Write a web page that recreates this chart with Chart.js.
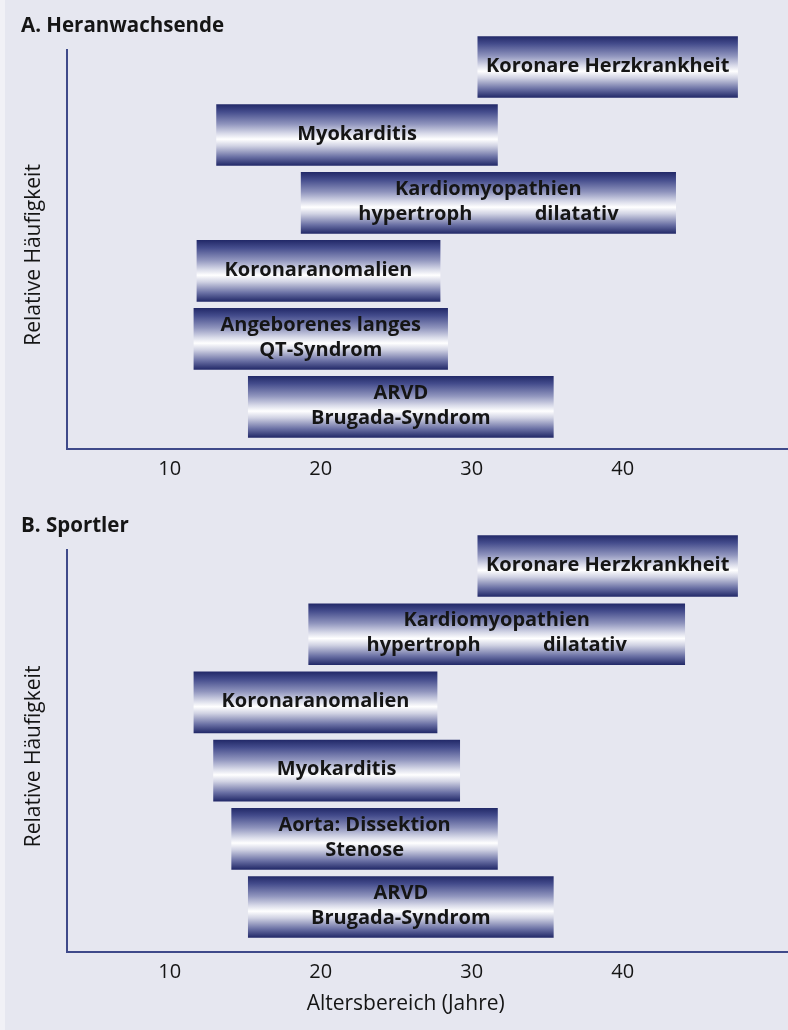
<!DOCTYPE html>
<html lang="de">
<head>
<meta charset="utf-8">
<title>Altersbereiche – Heranwachsende und Sportler</title>
<script src="https://cdn.jsdelivr.net/npm/chart.js@4.4.1/dist/chart.umd.min.js"></script>
<style>
  html, body { margin: 0; padding: 0; background: #e6e7f0; }
  body { width: 788px; height: 1030px; position: relative; overflow: hidden; }
  .rand { position: absolute; left: 0; top: 0; width: 5px; height: 1030px; background: #f1f1f6; }
  .panel { position: absolute; left: 0; width: 788px; }
  #panelA { top: 0; height: 500px; }
  #panelB { top: 500px; height: 530px; }
</style>
</head>
<body>
<div class="rand"></div>
<div class="panel" id="panelA"><canvas id="chartA"></canvas></div>
<div class="panel" id="panelB"><canvas id="chartB"></canvas></div>
<script>
// Werte (Alter in Jahren)
const alterTicks = [10, 20, 30, 40];

const kategorienA = [
    ['Koronare Herzkrankheit'],
    ['Myokarditis'],
    ['Kardiomyopathien', 'hypertroph            dilatativ'],
    ['Koronaranomalien'],
    ['Angeborenes langes', 'QT-Syndrom'],
    ['ARVD', 'Brugada-Syndrom']
];
const vonA = [30.4, 13.1, 18.7, 11.8, 11.6, 15.2];
const bisA = [47.6, 31.7, 43.5, 27.9, 28.4, 35.4];

const kategorienB = [
    ['Koronare Herzkrankheit'],
    ['Kardiomyopathien', 'hypertroph            dilatativ'],
    ['Koronaranomalien'],
    ['Myokarditis'],
    ['Aorta: Dissektion', 'Stenose'],
    ['ARVD', 'Brugada-Syndrom']
];
const vonB = [30.4, 19.2, 11.6, 12.9, 14.1, 15.2];
const bisB = [47.6, 44.1, 27.7, 29.2, 31.7, 35.4];

const achsenFarbe = '#3f4a8a';
const textFarbe = '#151515';
const balkenHoehe = 61;

// Verlauf dunkel - weiss - dunkel fuer jeden Balken
const balkenVerlauf = (ctx) => {
    const chart = ctx.chart;
    const yScale = chart.scales.y;
    if (ctx.type !== 'data' || !yScale || !chart.chartArea) return '#262d6c';
    const mitte = yScale.getPixelForValue(ctx.raw.y);
    if (!isFinite(mitte)) return '#262d6c';
    const g = chart.ctx.createLinearGradient(0, mitte - balkenHoehe / 2, 0, mitte + balkenHoehe / 2);
    g.addColorStop(0, '#232a69');
    g.addColorStop(0.12, '#444c8c');
    g.addColorStop(0.32, '#8f94bd');
    g.addColorStop(0.48, '#dadcea');
    g.addColorStop(0.57, '#ffffff');
    g.addColorStop(0.68, '#d0d2e3');
    g.addColorStop(0.86, '#6a70a4');
    g.addColorStop(1, '#232a69');
    return g;
};

// Beschriftung mitten in den Balken
const balkenText = {
    id: 'balkenText',
    afterDatasetsDraw(chart) {
        const ctx = chart.ctx;
        const labels = chart.data.labels;
        chart.getDatasetMeta(0).data.forEach((bar, i) => {
            const zeilen = labels[i];
            const cx = (bar.x + bar.base) / 2;
            const abstand = 25;
            const y0 = bar.y - (zeilen.length - 1) * abstand / 2 - 1;
            ctx.save();
            ctx.font = 'bold 20px "Open Sans"';
            ctx.fillStyle = textFarbe;
            ctx.textAlign = 'center';
            ctx.textBaseline = 'middle';
            zeilen.forEach((z, k) => ctx.fillText(z, cx, y0 + k * abstand));
            ctx.restore();
        });
    }
};

const erstelleChart = (canvasId, titel, kategorien, von, bis, yMin, yMax, xHoehe, xTitel) => {
    const ctx = document.getElementById(canvasId);
    return new Chart(ctx, {
        type: 'bar',
        data: {
            labels: kategorien,
            datasets: [{
                data: kategorien.map((k, i) => ({ x: [von[i], bis[i]], y: i })),
                backgroundColor: balkenVerlauf,
                borderWidth: 0,
                barThickness: balkenHoehe,
                clip: false
            }]
        },
        options: {
            indexAxis: 'y',
            responsive: true,
            maintainAspectRatio: false,
            animation: false,
            layout: { padding: { left: 21, right: 0, top: 0, bottom: 0 } },
            plugins: {
                legend: { display: false },
                tooltip: { enabled: false },
                title: {
                    display: true, text: titel, align: 'start', color: textFarbe,
                    font: { family: 'Open Sans', size: 20.5, weight: 'bold' },
                    padding: { top: 14, bottom: 11.4 }
                }
            },
            scales: {
                x: {
                    type: 'linear', min: 3.195, max: 50.94,
                    afterBuildTicks: (s) => { s.ticks = alterTicks.map(v => ({ value: v })); },
                    afterFit: (s) => { s.height = xHoehe; },
                    grid: { display: false, drawTicks: false },
                    border: { color: achsenFarbe, width: 2 },
                    ticks: { color: textFarbe, padding: 8, font: { family: 'Open Sans', size: 20 } },
                    title: {
                        display: !!xTitel,
                        // rechts mit Leerzeichen aufgefuellt, damit der Titel wie im Original links der Mitte sitzt
                        text: xTitel + '\u00a0'.repeat(8),
                        color: textFarbe,
                        font: { family: 'Open Sans', size: 21 },
                        padding: { top: 0, bottom: 13 }
                    }
                },
                y: {
                    type: 'linear', reverse: true, min: yMin, max: yMax, offset: false,
                    afterFit: (s) => { s.width = 46; },
                    grid: { display: false, drawTicks: false, offset: false },
                    border: { color: achsenFarbe, width: 2 },
                    ticks: { display: false },
                    title: {
                        display: true, text: 'Relative Häufigkeit' + '\u00a0'.repeat(2), color: textFarbe,
                        font: { family: 'Open Sans', size: 21 },
                        padding: { top: 0, bottom: 0 }
                    }
                }
            }
        },
        plugins: [balkenText]
    });
};

erstelleChart('chartA', 'A. Heranwachsende', kategorienA, vonA, bisA, -0.25, 5.62, 51, '');
erstelleChart('chartB', 'B. Sportler', kategorienB, vonB, bisB, -0.235, 5.66, 78, 'Altersbereich (Jahre)');
</script>
</body>
</html>
